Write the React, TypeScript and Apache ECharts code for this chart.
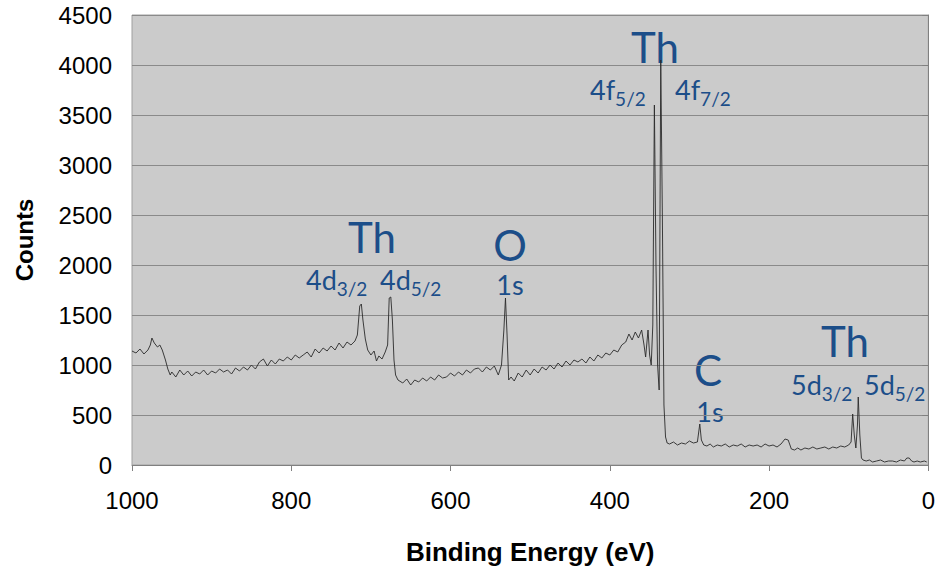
import React, { useEffect, useRef } from "react";
import * as echarts from "echarts";

// Binding energy (eV) and counts
const bindingEnergy: number[] = [
  1000, 995, 990, 985, 980, 977, 975, 972, 968, 965, 962, 958, 955, 952,
  950, 945, 940, 935, 930, 925, 920, 915, 910, 905, 900, 895, 890, 885, 880, 875,
  870, 865, 860, 855, 850, 845, 840, 835, 830, 825, 820, 815, 810, 805, 800, 795,
  790, 785, 780, 775, 770, 765, 760, 755, 750, 745, 740, 735, 730, 725, 720, 717,
  714, 712, 710, 707, 704, 700, 696, 693, 690, 686, 682, 679, 677, 675, 673, 671,
  669, 666, 660, 655, 650, 645, 640, 635, 630, 625, 620, 615, 610, 605, 600, 595,
  590, 585, 580, 575, 570, 565, 560, 555, 550, 545, 540, 536, 533, 531, 529, 527,
  524, 520, 515, 510, 505, 500, 495, 490, 485, 480, 475, 470, 465, 460, 455, 450,
  445, 440, 435, 430, 425, 420, 415, 410, 405, 400, 395, 390, 385, 380, 376, 372,
  368, 364, 360, 357, 355, 352, 350, 348, 346, 344, 342, 340, 338, 336, 334, 332,
  330, 328, 325, 320, 315, 310, 305, 300, 295, 290, 287, 285, 282, 278, 274, 270,
  265, 260, 255, 250, 245, 240, 235, 230, 225, 220, 215, 210, 205, 200, 195, 190,
  185, 180, 176, 172, 168, 164, 160, 155, 150, 145, 140, 135, 130, 125, 120, 115,
  110, 105, 100, 97, 95, 93, 91, 89, 88, 86, 84, 82, 78, 74, 70, 65,
  60, 55, 50, 45, 40, 35, 30, 27, 24, 21, 18, 14, 10, 5, 2,
];
const counts: number[] = [
  1140, 1120, 1160, 1110, 1150, 1200, 1270, 1220, 1180, 1200, 1150, 1050, 960, 900,
  930, 880, 950, 900, 940, 890, 930, 910, 950, 900, 940, 920, 960, 930, 950, 910,
  970, 940, 980, 950, 1000, 960, 1030, 1060, 990, 1050, 1010, 1060, 1040, 1080, 1050, 1100,
  1070, 1100, 1130, 1080, 1160, 1120, 1170, 1140, 1190, 1150, 1220, 1170, 1230, 1200, 1240, 1300,
  1590, 1610, 1450, 1260, 1150, 1100, 1140, 1040, 1090, 1060, 1130, 1200, 1670, 1680, 1450, 1050,
  900, 850, 820, 860, 800, 850, 830, 870, 840, 880, 850, 900, 870, 880, 920, 890,
  930, 900, 950, 920, 960, 970, 930, 980, 950, 990, 900, 1000, 1350, 1670, 1300, 850,
  880, 840, 920, 880, 950, 900, 960, 920, 980, 950, 1000, 960, 1020, 980, 1040, 1000,
  1050, 1030, 1060, 1020, 1080, 1040, 1100, 1070, 1120, 1100, 1150, 1130, 1200, 1230, 1310, 1250,
  1330, 1270, 1350, 1200, 1080, 1350, 1100, 1000, 1400, 3600, 2000, 1000, 750, 4050, 2500, 600,
  280, 220, 210, 230, 200, 220, 210, 240, 220, 230, 410, 250, 200, 190, 210, 180,
  200, 190, 210, 180, 200, 190, 210, 180, 200, 190, 200, 180, 210, 190, 200, 180,
  210, 260, 250, 160, 150, 170, 150, 170, 160, 180, 160, 170, 180, 160, 180, 170,
  190, 180, 200, 230, 510, 300, 170, 400, 680, 300, 70, 50, 40, 50, 30, 40,
  50, 30, 40, 40, 30, 50, 40, 70, 70, 40, 30, 40, 30, 40, 30,
];
const xTicks: number[] = [0, 200, 400, 600, 800, 1000];
const yTicks: number[] = [0, 500, 1000, 1500, 2000, 2500, 3000, 3500, 4000, 4500];

const BLUE = "#1c4e89";
const ANN_FONT = "Lato, 'Open Sans', sans-serif";
const AXIS_FONT = "Arial, 'Liberation Sans', sans-serif";

export default function App() {
  const ref = useRef<HTMLDivElement>(null);
  useEffect(() => {
    document.body.style.margin = "0";
    if (!ref.current) return;
    const chart = echarts.init(ref.current, undefined, { renderer: "svg" });
    const data = bindingEnergy.map((e, i) => [e, counts[i]]);

    const big = (text: string, x: number, y: number) => ({
      type: "text",
      x,
      y,
      style: {
        text,
        fill: BLUE,
        font: `42px ${ANN_FONT}`,
        textAlign: "center",
        textVerticalAlign: "middle",
      },
    });
    const small = (text: string, x: number, y: number) => ({
      type: "text",
      x,
      y,
      style: {
        text,
        fill: BLUE,
        font: `27px ${ANN_FONT}`,
        textAlign: "center",
        textVerticalAlign: "middle",
      },
    });
    const sub = (main: string, s: string, x: number, y: number) => ({
      type: "text",
      x,
      y,
      style: {
        text: `{a|${main}}{b|${s}}`,
        fill: BLUE,
        textAlign: "left",
        textVerticalAlign: "top",
        rich: {
          a: {
            fontSize: 27,
            fontFamily: ANN_FONT,
            fill: BLUE,
            color: BLUE,
            lineHeight: 30,
            verticalAlign: "top",
          },
          b: {
            fontSize: 19,
            fontFamily: ANN_FONT,
            fill: BLUE,
            color: BLUE,
            lineHeight: 20,
            padding: [13, 0, 0, 0],
            verticalAlign: "top",
          },
        },
      },
    });

    chart.setOption({
      animation: false,
      grid: {
        left: 132,
        right: 8,
        top: 15,
        bottom: 106,
        show: true,
        backgroundColor: "#cbcbcb",
        borderColor: "#a0a0a0",
        borderWidth: 1,
      },
      xAxis: {
        type: "value",
        min: 0,
        max: 1000,
        interval: 200,
        inverse: true,
        name: "Binding Energy (eV)",
        nameLocation: "middle",
        nameGap: 74,
        nameTextStyle: {
          fontSize: 26,
          fontWeight: "bold",
          color: "#000",
          fontFamily: AXIS_FONT,
        },
        axisLine: { show: true, lineStyle: { color: "#808080", width: 1 } },
        axisTick: { show: true, length: 6, lineStyle: { color: "#808080" } },
        splitLine: { show: false },
        axisLabel: {
          fontSize: 24,
          color: "#000",
          margin: 23,
          fontFamily: AXIS_FONT,
          formatter: (v: number) => (xTicks.includes(v) ? String(v) : ""),
        },
      },
      yAxis: {
        type: "value",
        min: 0,
        max: 4500,
        interval: 500,
        name: "Counts",
        nameLocation: "middle",
        nameGap: 96,
        nameRotate: 90,
        nameTextStyle: {
          fontSize: 24,
          fontWeight: "bold",
          color: "#000",
          fontFamily: AXIS_FONT,
        },
        axisLine: { show: true, lineStyle: { color: "#808080", width: 1 } },
        axisTick: { show: true, length: 6, lineStyle: { color: "#808080" } },
        splitLine: { show: true, lineStyle: { color: "#8a8a8a", width: 1 } },
        axisLabel: {
          fontSize: 24,
          color: "#000",
          margin: 20,
          fontFamily: AXIS_FONT,
          formatter: (v: number) => (yTicks.includes(v) ? String(v) : ""),
        },
      },
      series: [
        {
          type: "line",
          data,
          showSymbol: false,
          lineStyle: { color: "#2a2a2a", width: 0.9 },
          z: 3,
        },
      ],
      graphic: [
        big("Th", 372, 237),
        sub("4d", "3/2", 306, 266),
        sub("4d", "5/2", 380, 266),
        big("O", 510, 245),
        small("1s", 510, 284),
        big("Th", 655, 47),
        sub("4f", "5/2", 590, 76),
        sub("4f", "7/2", 675, 76),
        big("C", 708, 370),
        small("1s", 710, 411),
        big("Th", 845, 341),
        sub("5d", "3/2", 791, 371),
        sub("5d", "5/2", 864, 371),
      ],
    });
    return () => chart.dispose();
  }, []);
  return <div ref={ref} style={{ width: 938, height: 571 }} />;
}
